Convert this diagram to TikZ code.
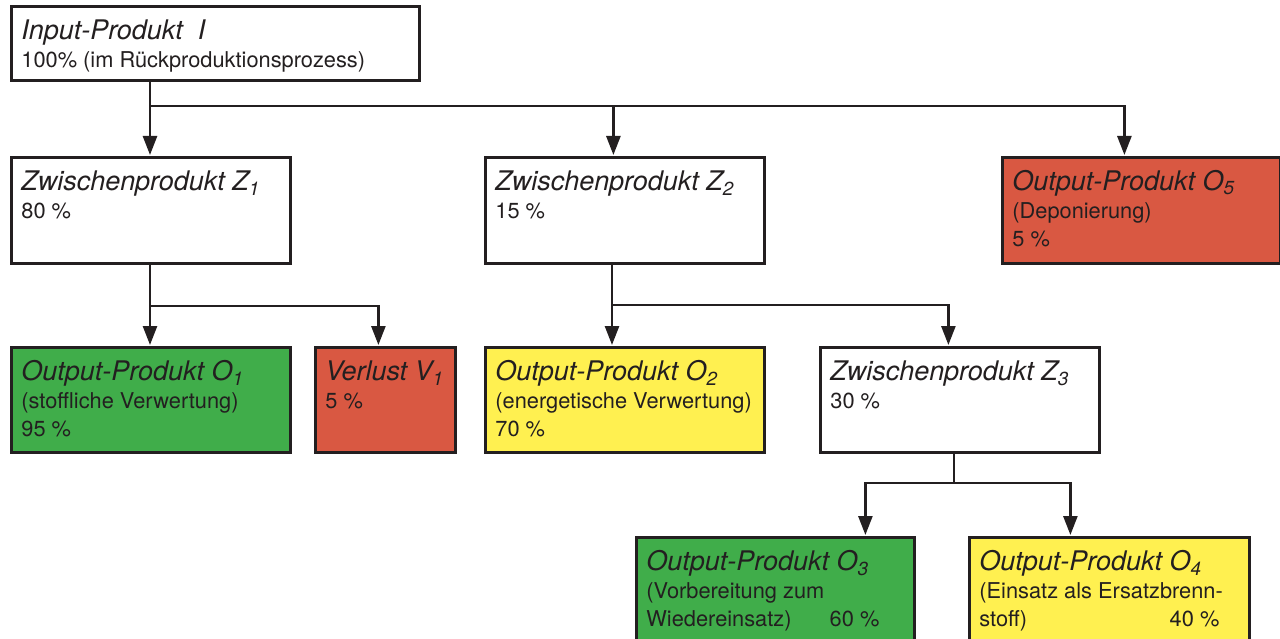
\documentclass[tikz,border=0pt]{standalone}
\usepackage{fontspec}
\setmainfont{TeX Gyre Heros}
\usetikzlibrary{arrows.meta}

\definecolor{linecol}{RGB}{35,31,32}
\definecolor{boxgreen}{RGB}{64,173,74}
\definecolor{boxred}{RGB}{217,88,66}
\definecolor{boxyellow}{RGB}{255,240,80}

\newcommand{\prodtitle}[1]{{\fontsize{27}{30}\selectfont\itshape\rule{0pt}{33pt}#1\par}}
\newcommand{\prodbody}{\fontsize{21.8}{28}\selectfont}
\newcommand{\prodcontent}[3]{\parbox[t][#1][t]{#2}{#3}}

\tikzset{
  prodbox/.style={draw=linecol, line width=2.8pt, anchor=north west, inner xsep=10pt, inner ysep=0pt, text=linecol, fill=white},
  link/.style={draw=linecol, line width=2.6pt},
  arr/.style={link, -{Triangle[length=19pt,width=14pt]}, shorten >=1pt}
}

\begin{document}
\begin{tikzpicture}[x=1pt, y=-1pt]
\useasboundingbox (0,0) rectangle (1280,639);

% Input
\node[prodbox] (I) at (10,5) {\prodcontent{74pt}{388pt}{\prodtitle{Input-Produkt\ \ I}\prodbody 100\% (im Rückproduktionsprozess)}};

% first level
\node[prodbox] (Z1) at (10,156) {\prodcontent{106pt}{259pt}{\prodtitle{Zwischenprodukt Z\textsubscript{1}}\prodbody 80 \%}};
\node[prodbox] (Z2) at (484,156) {\prodcontent{106pt}{259pt}{\prodtitle{Zwischenprodukt Z\textsubscript{2}}\prodbody 15 \%}};
\node[prodbox, fill=boxred] (O5) at (1001,156) {\prodcontent{106pt}{258pt}{\prodtitle{Output-Produkt O\textsubscript{5}}\prodbody (Deponierung)\\ 5 \%}};

% second level
\node[prodbox, fill=boxgreen] (O1) at (10,346) {\prodcontent{105pt}{259pt}{\prodtitle{Output-Produkt O\textsubscript{1}}\prodbody (stoffliche Verwertung)\\ 95 \%}};
\node[prodbox, fill=boxred] (V1) at (314,346) {\prodcontent{105pt}{120pt}{\prodtitle{Verlust V\textsubscript{1}}\prodbody 5 \%}};
\node[prodbox, fill=boxyellow] (O2) at (484,346) {\prodcontent{105pt}{259pt}{\prodtitle{Output-Produkt O\textsubscript{2}}\prodbody (energetische Verwertung)\\ 70 \%}};
\node[prodbox] (Z3) at (819,346) {\prodcontent{105pt}{259pt}{\prodtitle{Zwischenprodukt Z\textsubscript{3}}\prodbody 30 \%}};

% third level
\node[prodbox, fill=boxgreen] (O3) at (635,536) {\prodcontent{120pt}{258pt}{\prodtitle{Output-Produkt O\textsubscript{3}}\prodbody (Vorbereitung zum\\ Wiedereinsatz)\hfill 60 \%\hspace*{25pt}}};
\node[prodbox, fill=boxyellow] (O4) at (968,536) {\prodcontent{120pt}{260pt}{\prodtitle{Output-Produkt O\textsubscript{4}}\prodbody (Einsatz als Ersatzbrenn-\\ stoff)\hfill 40 \%\hspace*{20pt}}};

% branch points
\coordinate (hubI) at (150,106);
\coordinate (hubZ1) at (150,306);
\coordinate (hubZ2) at (612,305);
\coordinate (hubZ3) at (954,483);

% connectors
\draw[link] (I.south -| hubI) -- (hubI);
\draw[arr] (hubI) -- (hubI |- Z1.north);
\draw[arr] (hubI) -| ([xshift=-11.5]Z2.north);
\draw[arr] (hubI) -| ([xshift=-17]O5.north);

\draw[link] (Z1.south -| hubZ1) -- (hubZ1);
\draw[arr] (hubZ1) -- (hubZ1 |- O1.north);
\draw[arr] (hubZ1) -| ([xshift=-7]V1.north);

\draw[link] (Z2.south -| hubZ2) -- (hubZ2);
\draw[arr] (hubZ2) -- (hubZ2 |- O2.north);
\draw[arr] (hubZ2) -| ([xshift=-11.5]Z3.north);

\draw[link] (Z3.south -| hubZ3) -- (hubZ3);
\draw[arr] (hubZ3) -| ([xshift=90]O3.north);
\draw[arr] (hubZ3) -| ([xshift=-39]O4.north);

\end{tikzpicture}
\end{document}
